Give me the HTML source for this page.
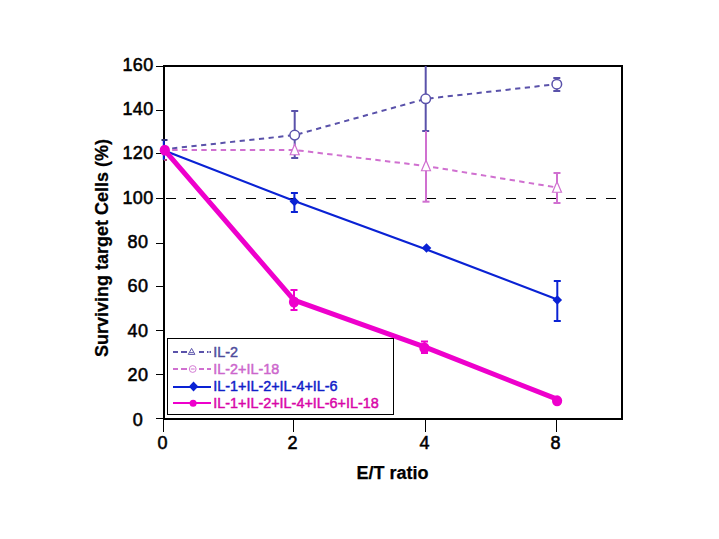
<!DOCTYPE html>
<html><head><meta charset="utf-8"><style>
html,body{margin:0;padding:0;background:#fff;}
svg{display:block;}
text{font-family:"Liberation Sans",sans-serif;}
.yl{font-size:18px;text-anchor:middle;fill:#000;letter-spacing:0.4px;stroke:#000;stroke-width:0.55px;}
.xl{font-size:18px;text-anchor:middle;fill:#000;stroke:#000;stroke-width:0.55px;}
.lg{font-size:14.4px;}
.tt{font-size:18px;font-weight:bold;text-anchor:middle;fill:#000;stroke:#000;stroke-width:0.25px;}
</style></head><body>
<svg width="719" height="539" viewBox="0 0 719 539">
<rect width="719" height="539" fill="#fff"/>
<rect x="156" y="66" width="8" height="1" fill="#000"/>
<text x="138" y="70.60" class="yl">160</text>
<rect x="156" y="110" width="8" height="1" fill="#000"/>
<text x="138" y="114.97" class="yl">140</text>
<rect x="156" y="153" width="8" height="1" fill="#000"/>
<text x="138" y="159.35" class="yl">120</text>
<rect x="156" y="198" width="8" height="1" fill="#000"/>
<text x="138" y="203.72" class="yl">100</text>
<rect x="156" y="243" width="8" height="1" fill="#000"/>
<text x="138" y="248.10" class="yl">80</text>
<rect x="156" y="286" width="8" height="1" fill="#000"/>
<text x="138" y="292.48" class="yl">60</text>
<rect x="156" y="330" width="8" height="1" fill="#000"/>
<text x="138" y="336.85" class="yl">40</text>
<rect x="156" y="374" width="8" height="1" fill="#000"/>
<text x="138" y="381.23" class="yl">20</text>
<rect x="156" y="418" width="8" height="1" fill="#000"/>
<text x="138" y="425.60" class="yl">0</text>
<rect x="163" y="418" width="1" height="14" fill="#000"/>
<text x="162.5" y="449" class="xl">0</text>
<rect x="293" y="418" width="1" height="14" fill="#000"/>
<text x="292.5" y="449" class="xl">2</text>
<rect x="425" y="418" width="1" height="14" fill="#000"/>
<text x="424.5" y="449" class="xl">4</text>
<rect x="556" y="418" width="1" height="14" fill="#000"/>
<text x="555.5" y="449" class="xl">8</text>
<rect x="163" y="65" width="2" height="355" fill="#000"/>
<rect x="163" y="65" width="460" height="2" fill="#000"/>
<rect x="621" y="65" width="2" height="355" fill="#000"/>
<rect x="163" y="418" width="460" height="2" fill="#000"/>
<line x1="166" y1="198.5" x2="621" y2="198.5" stroke="#000" stroke-width="1" stroke-dasharray="10 10"/>
<path d="M164.80,149.20 L294.70,135.10 L425.70,98.80 L556.80,84.20" fill="none" stroke="#5a52aa" stroke-width="2" stroke-dasharray="5.2 4.5" stroke-dashoffset="2.3"/>
<line x1="294.7" y1="111" x2="294.7" y2="158" stroke="#5a52aa" stroke-width="2"/><line x1="291.2" y1="111" x2="298.2" y2="111" stroke="#5a52aa" stroke-width="2"/><line x1="291.2" y1="158" x2="298.2" y2="158" stroke="#5a52aa" stroke-width="2"/>
<line x1="425.7" y1="66" x2="425.7" y2="131" stroke="#5a52aa" stroke-width="2"/>
<line x1="422.2" y1="131" x2="429.2" y2="131" stroke="#5a52aa" stroke-width="2"/>
<line x1="556.8" y1="78" x2="556.8" y2="91" stroke="#5a52aa" stroke-width="2"/><line x1="553.3" y1="78" x2="560.3" y2="78" stroke="#5a52aa" stroke-width="2"/><line x1="553.3" y1="91" x2="560.3" y2="91" stroke="#5a52aa" stroke-width="2"/>
<circle cx="294.7" cy="135.1" r="4.8" fill="#fff" stroke="#5a52aa" stroke-width="1.5"/>
<circle cx="425.7" cy="98.8" r="4.8" fill="#fff" stroke="#5a52aa" stroke-width="1.5"/>
<circle cx="556.8" cy="84.2" r="4.8" fill="#fff" stroke="#5a52aa" stroke-width="1.5"/>
<path d="M164.80,150.00 L294.70,150.00 L426.00,166.00 L557.00,187.50" fill="none" stroke="#d070d0" stroke-width="2" stroke-dasharray="5.4 4.3" stroke-dashoffset="2.3"/>
<line x1="426" y1="131" x2="426" y2="201.7" stroke="#d070d0" stroke-width="2"/>
<line x1="422.5" y1="201.7" x2="429.5" y2="201.7" stroke="#d070d0" stroke-width="2"/>
<line x1="557" y1="173" x2="557" y2="203" stroke="#d070d0" stroke-width="2"/><line x1="553.5" y1="173" x2="560.5" y2="173" stroke="#d070d0" stroke-width="2"/><line x1="553.5" y1="203" x2="560.5" y2="203" stroke="#d070d0" stroke-width="2"/>
<path d="M294.7,144.25 L299.2,154.75 L290.2,154.75 Z" fill="#fff" stroke="#d070d0" stroke-width="1.2" stroke-linejoin="miter"/>
<path d="M426.0,160.25 L430.5,170.75 L421.5,170.75 Z" fill="#fff" stroke="#d070d0" stroke-width="1.2" stroke-linejoin="miter"/>
<path d="M557.0,181.75 L561.5,192.25 L552.5,192.25 Z" fill="#fff" stroke="#d070d0" stroke-width="1.2" stroke-linejoin="miter"/>
<path d="M164.80,150.80 L294.40,201.00 L426.50,249.50 L557.30,299.50" fill="none" stroke="#0a22d4" stroke-width="2.2"/>
<line x1="163.8" y1="140" x2="163.8" y2="160" stroke="#0a22d4" stroke-width="2"/>
<rect x="161.5" y="139" width="6" height="2" fill="#33337a"/>
<rect x="164" y="159" width="3" height="2" fill="#a8407a"/>
<line x1="294.4" y1="193" x2="294.4" y2="212" stroke="#0a22d4" stroke-width="2"/><line x1="290.9" y1="193" x2="297.9" y2="193" stroke="#0a22d4" stroke-width="2"/><line x1="290.9" y1="212" x2="297.9" y2="212" stroke="#0a22d4" stroke-width="2"/>
<line x1="557.3" y1="281" x2="557.3" y2="321" stroke="#0a22d4" stroke-width="2"/><line x1="553.8" y1="281" x2="560.8" y2="281" stroke="#0a22d4" stroke-width="2"/><line x1="553.8" y1="321" x2="560.8" y2="321" stroke="#0a22d4" stroke-width="2"/>
<path d="M294.4,196.7 L299.2,201.5 L294.4,206.3 L289.59999999999997,201.5 Z" fill="#0a22d4"/>
<path d="M426.5,243.2 L431.3,248.0 L426.5,252.8 L421.7,248.0 Z" fill="#0a22d4"/>
<path d="M557.3,295.2 L562.0999999999999,300.0 L557.3,304.8 L552.5,300.0 Z" fill="#0a22d4"/>
<path d="M164.80,150.30 L294.00,300.20 L424.50,346.90 L557.00,399.20" fill="none" stroke="#ee00cc" stroke-width="5" stroke-linejoin="round"/>
<line x1="294" y1="290" x2="294" y2="310" stroke="#ee00cc" stroke-width="2"/><line x1="290.5" y1="290" x2="297.5" y2="290" stroke="#ee00cc" stroke-width="2"/><line x1="290.5" y1="310" x2="297.5" y2="310" stroke="#ee00cc" stroke-width="2"/>
<line x1="424.5" y1="341.5" x2="424.5" y2="353" stroke="#ee00cc" stroke-width="2"/><line x1="421.0" y1="341.5" x2="428.0" y2="341.5" stroke="#ee00cc" stroke-width="2"/><line x1="421.0" y1="353" x2="428.0" y2="353" stroke="#ee00cc" stroke-width="2"/>
<ellipse cx="164.8" cy="150.2" rx="5.1" ry="5.5" fill="#ee00cc"/>
<ellipse cx="294.0" cy="302.0" rx="5.1" ry="5.5" fill="#ee00cc"/>
<ellipse cx="424.4" cy="348.0" rx="5.1" ry="5.5" fill="#ee00cc"/>
<ellipse cx="557.1" cy="400.8" rx="5.1" ry="5.5" fill="#ee00cc"/>
<rect x="167.5" y="338.5" width="226" height="76" fill="#fff" stroke="#000" stroke-width="1"/>
<rect x="173" y="351" width="5" height="2" fill="#5a52aa"/>
<rect x="181" y="351" width="6" height="2" fill="#5a52aa"/>
<rect x="199" y="351" width="5" height="2" fill="#5a52aa"/>
<rect x="207" y="351" width="1.5" height="2" fill="#5a52aa"/>
<rect x="209.5" y="351" width="1.5" height="2" fill="#5a52aa"/>
<path d="M191.6,348.4 L194.9,354.4 L188.3,354.4 Z" fill="#fff" stroke="#5a52aa" stroke-width="1.0"/>
<line x1="189.8" y1="352.6" x2="193.6" y2="352.6" stroke="#5a52aa" stroke-width="0.9"/>
<text x="213.2" y="357" class="lg" fill="#4e4c9c" stroke="#4e4c9c" stroke-width="0.45">IL-2</text>
<rect x="173" y="368" width="5" height="2" fill="#d070d0"/>
<rect x="181" y="368" width="6" height="2" fill="#d070d0"/>
<rect x="199" y="368" width="5" height="2" fill="#d070d0"/>
<rect x="207" y="368" width="4" height="2" fill="#d070d0"/>
<circle cx="192.7" cy="369" r="3.4" fill="#fff" stroke="#d070d0" stroke-width="0.9"/>
<line x1="190.8" y1="369" x2="194.6" y2="369" stroke="#d070d0" stroke-width="1"/>
<text x="213.2" y="374" class="lg" fill="#cc66cc" stroke="#cc66cc" stroke-width="0.45">IL-2+IL-18</text>
<rect x="173" y="386" width="38" height="2" fill="#0a22d4"/>
<path d="M193.5,381.4 L198.3,386.5 L193.5,391.6 L188.9,386.5 Z" fill="#0a22d4"/>
<text x="213.2" y="391" class="lg" fill="#1020c8" stroke="#1020c8" stroke-width="0.45">IL-1+IL-2+IL-4+IL-6</text>
<rect x="173" y="402" width="38" height="2" fill="#ee00cc"/>
<circle cx="193.1" cy="403.2" r="3.5" fill="#ee00cc" stroke="#ee00cc" stroke-width="0"/>
<text x="213.2" y="408" class="lg" fill="#d806a8" stroke="#d806a8" stroke-width="0.45">IL-1+IL-2+IL-4+IL-6+IL-18</text>
<text x="392.5" y="479" class="tt">E/T ratio</text>
<text transform="translate(108,248) rotate(-90)" x="0" y="0" class="tt">Surviving target Cells (%)</text>
</svg>
</body></html>
